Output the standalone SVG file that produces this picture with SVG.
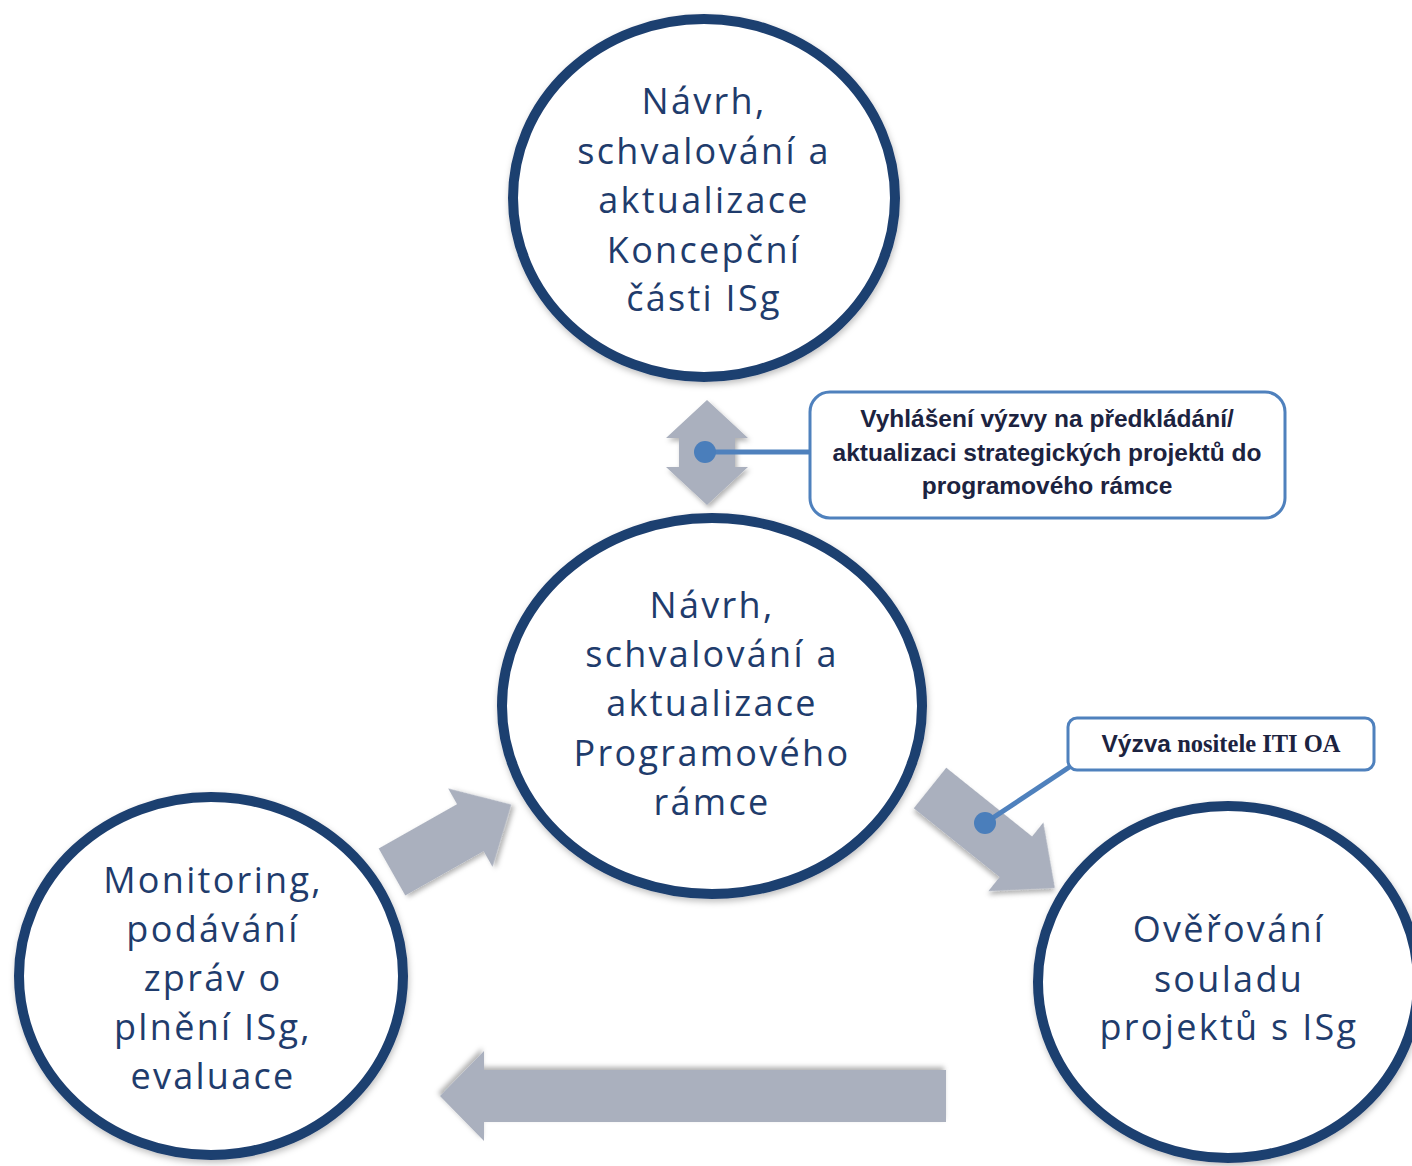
<svg xmlns="http://www.w3.org/2000/svg" width="1412" height="1166" viewBox="0 0 1412 1166">
<defs>
<style>
.circ{fill:#ffffff;stroke:#1f3f6f;stroke-width:10}
.ct{font-family:"Open Sans","Liberation Sans",sans-serif;font-size:36px;fill:#1f3c6c;text-anchor:middle;letter-spacing:2.3px}
.arr{fill:#aab0be}
.box{fill:#ffffff;stroke:#4f81bd;stroke-width:3}
.bt{font-family:"Liberation Sans",Arial,sans-serif;font-weight:bold;font-size:24.5px;fill:#1c2340;text-anchor:middle}
.lead{stroke:#4f81bd;stroke-width:5;fill:none}
.dot{fill:#4a7ebb}
</style>
<filter id="sh" x="-20%" y="-20%" width="140%" height="140%">
<feDropShadow dx="2" dy="3" stdDeviation="2.5" flood-color="#000000" flood-opacity="0.3"/>
</filter>
<filter id="csh" x="-10%" y="-10%" width="120%" height="120%">
<feDropShadow dx="1" dy="3" stdDeviation="3" flood-color="#000000" flood-opacity="0.25"/>
</filter>
</defs>
<rect width="1412" height="1166" fill="#ffffff"/>

<g id="connectors">
<polygon class="arr" filter="url(#sh)" points="707,400 748,438 735,438 735,467 748,467 707,505 666,467 679,467 679,438 666,438"/>
<polygon class="arr" filter="url(#sh)" transform="translate(392,872) rotate(-29.5)" points="0,-27 90,-27 90,-45 137,0 90,45 90,27 0,27"/>
<polygon class="arr" filter="url(#sh)" transform="translate(930,788) rotate(38.7)" points="0,-26 110,-26 110,-44 160,0 110,44 110,26 0,26"/>
<polygon class="arr" filter="url(#sh)" transform="translate(946,1096) rotate(180)" points="0,-26 462,-26 462,-45 506,0 462,45 462,26 0,26"/>
</g>

<g id="node-top">
<ellipse class="circ" filter="url(#csh)" cx="704" cy="198" rx="191" ry="179"/>
<text class="ct" x="704" y="114">Návrh,</text>
<text class="ct" x="704" y="164">schvalování a</text>
<text class="ct" x="704" y="213">aktualizace</text>
<text class="ct" x="704" y="263">Koncepční</text>
<text class="ct" x="704" y="311">části ISg</text>
</g>

<g id="node-center">
<ellipse class="circ" filter="url(#csh)" cx="712" cy="706" rx="210" ry="188"/>
<text class="ct" x="712" y="618">Návrh,</text>
<text class="ct" x="712" y="667">schvalování a</text>
<text class="ct" x="712" y="716">aktualizace</text>
<text class="ct" x="712" y="766">Programového</text>
<text class="ct" x="712" y="815">rámce</text>
</g>

<g id="node-left">
<ellipse class="circ" filter="url(#csh)" cx="211" cy="976" rx="192" ry="179"/>
<text class="ct" x="213" y="893">Monitoring,</text>
<text class="ct" x="213" y="942">podávání</text>
<text class="ct" x="213" y="991">zpráv o</text>
<text class="ct" x="213" y="1040">plnění ISg,</text>
<text class="ct" x="213" y="1089">evaluace</text>
</g>

<g id="node-right">
<ellipse class="circ" filter="url(#csh)" cx="1228" cy="982" rx="190" ry="176"/>
<text class="ct" x="1229" y="942">Ověřování</text>
<text class="ct" x="1229" y="992">souladu</text>
<text class="ct" x="1229" y="1040">projektů s ISg</text>
</g>

<g id="callout-1">
<line class="lead" x1="705" y1="452" x2="811" y2="452"/>
<circle class="dot" cx="705" cy="452" r="11"/>
<rect class="box" x="810" y="392" width="475" height="126" rx="20"/>
<text class="bt" x="1047" y="427">Vyhlášení výzvy na předkládání/</text>
<text class="bt" x="1047" y="461">aktualizaci strategických projektů do</text>
<text class="bt" x="1047" y="494">programového rámce</text>
</g>

<g id="callout-2">
<line class="lead" x1="1071" y1="766" x2="985" y2="823"/>
<circle class="dot" cx="985" cy="823" r="11"/>
<rect class="box" x="1068" y="718" width="306" height="52" rx="9"/>
<text class="bt" x="1221" y="752"><tspan>Výzva</tspan><tspan font-family="'Liberation Serif','Times New Roman',serif"> nositele ITI OA</tspan></text>
</g>
</svg>
